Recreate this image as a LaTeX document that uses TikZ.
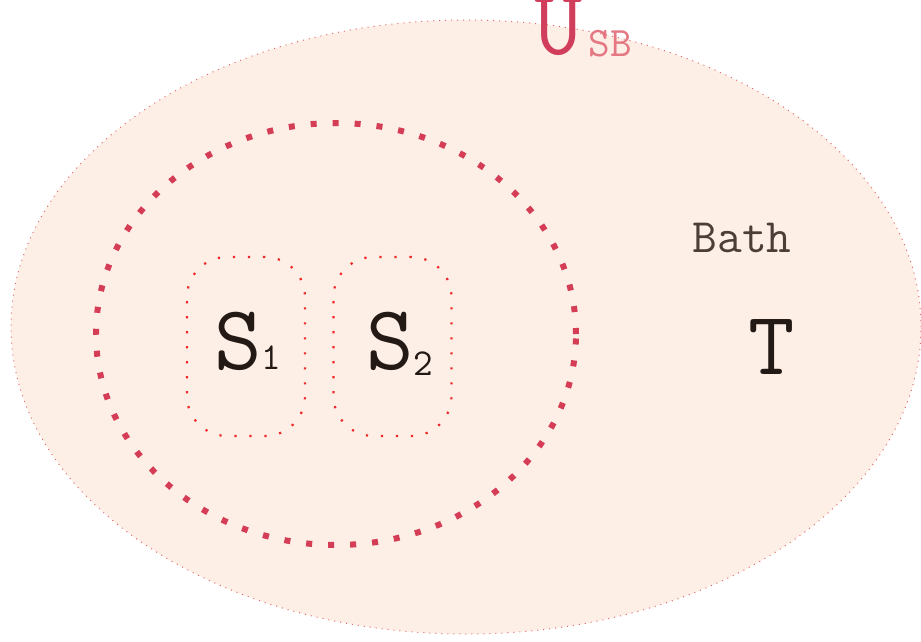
\documentclass[tikz,border=0pt]{standalone}
\usepackage{fontspec}
\usetikzlibrary{shapes.geometric}
\definecolor{bathfill}{HTML}{FDEEE6}
\definecolor{outerdot}{HTML}{E06A6A}
\definecolor{innerdot}{HTML}{D43D55}
\definecolor{boxdot}{HTML}{F02828}
\definecolor{ucol}{HTML}{D03E5C}
\definecolor{sbcol}{HTML}{E47782}
\definecolor{txtcol}{HTML}{231A15}
\definecolor{bathtxt}{HTML}{4A3E36}
\newcommand{\subfnt}{\fontsize{38}{38}\selectfont}
\tikzset{
  bathshape/.style={ellipse, fill=bathfill, draw=outerdot, line width=1pt, dash pattern=on 1pt off 5pt, minimum width=910pt, minimum height=614pt, inner sep=0pt},
  sysshape/.style={ellipse, draw=innerdot, line width=6pt, dash pattern=on 6pt off 16pt, minimum width=480pt, minimum height=422pt, inner sep=0pt},
  subbox/.style={rectangle, rounded corners=40pt, draw=boxdot, line width=2.2pt, dash pattern=on 2.2pt off 12.8pt, minimum width=118pt, minimum height=179pt, inner sep=0pt},
  bigletter/.style={font=\ttfamily\fontsize{92}{92}\selectfont, text=txtcol, inner sep=0pt, anchor=base west},
}
\begin{document}
\begin{tikzpicture}[x=1pt,y=-1pt]
\useasboundingbox (0,0) rectangle (921,641);
\clip (0,0) rectangle (921,641);
\node[bathshape] (bath) at (466,327) {};
\node[sysshape] (sys) at (336,334) {};
\node[subbox] (s1box) at (246,346.5) {};
\node[subbox] (s2box) at (392.5,346.5) {};
\node[bigletter] (s1) at (214,369) {S{\subfnt 1}};
\node[bigletter] (s2) at (366,369) {S\raisebox{-6pt}{\subfnt 2}};
\node[font=\ttfamily\fontsize{48}{48}\selectfont, text=bathtxt, inner sep=0pt, anchor=base] (bathlbl) at (742,252) {Bath};
\node[font=\ttfamily\fontsize{90}{90}\selectfont, text=txtcol, inner sep=0pt, anchor=base] (t) at (772,374) {T};
\node[font=\ttfamily\fontsize{94}{94}\selectfont, text=ucol, inner sep=0pt, anchor=base] (u) at (559,54) {U};
\node[font=\ttfamily\fontsize{42}{42}\selectfont, text=sbcol, inner sep=0pt, anchor=base] (sb) at (610,56) {SB};
\end{tikzpicture}
\end{document}
